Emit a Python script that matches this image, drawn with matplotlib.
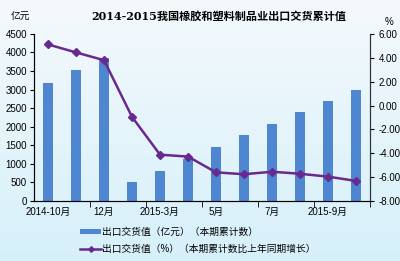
import numpy as np
import matplotlib.pyplot as plt
from matplotlib.colors import LinearSegmentedColormap

plt.rcParams['font.family'] = ['Liberation Sans', 'Noto Sans CJK SC', 'DejaVu Sans']

# Datos
meses = ['2014-10月', '11月', '12月', '2015-2月', '2015-3月', '4月', '5月', '6月',
         '7月', '8月', '2015-9月', '10月']
etiquetas_x = ['2014-10月', '', '12月', '', '2015-3月', '', '5月', '', '7月', '', '2015-9月', '']
valor_exportacion = [3190, 3535, 3860, 515, 805, 1140, 1455, 1770, 2065, 2385, 2705, 3000]
crecimiento = [5.12, 4.45, 3.80, -0.95, -4.12, -4.28, -5.60, -5.76, -5.55, -5.72, -5.96, -6.32]

fig = plt.figure(figsize=(4.0, 2.61), dpi=100)

# Fondo degradado
fondo = fig.add_axes([0, 0, 1, 1], zorder=-1)
cmap = LinearSegmentedColormap.from_list('fondo', ['#f4f9fc', '#d6f0fa'])
fondo.imshow(np.linspace(0, 1, 256).reshape(-1, 1), aspect='auto', cmap=cmap,
             extent=[0, 1, 0, 1], origin='upper')
fondo.axis('off')

ax = fig.add_axes([0.085, 0.230, 0.84, 0.640])
ax.patch.set_alpha(0)
x = np.arange(len(meses))
barras = ax.bar(x, valor_exportacion, width=0.38, color='#4f86d2', zorder=2,
                label='出口交货值（亿元）（本期累计数）')
ax.set_xlim(-0.5, len(meses) - 0.5)
ax.set_ylim(0, 4500)
ax.set_yticks(np.arange(0, 4501, 500))
ax.tick_params(axis='y', labelsize=7, length=3, direction='out', pad=2)
ax.set_xticks(x)
ax.set_xticklabels(etiquetas_x, fontsize=7)
ax.tick_params(axis='x', length=0, pad=4)
ax.set_xticks(np.arange(-0.5, len(meses), 2)[1:], minor=True)
ax.tick_params(axis='x', which='minor', length=4, direction='out')
ax.spines['top'].set_visible(False)
for lado in ['left', 'bottom', 'right']:
    ax.spines[lado].set_color('#333333')
    ax.spines[lado].set_linewidth(0.8)

ax2 = ax.twinx()
linea, = ax2.plot(x, crecimiento, color='#682a8e', lw=1.8, marker='D', ms=4,
                  zorder=3, label='出口交货值（%）（本期累计数比上年同期增长）')
ax2.set_ylim(-8, 6)
ax2.set_yticks(np.arange(-8, 6.01, 2))
ax2.set_yticklabels([f'{v:.2f}' for v in np.arange(-8, 6.01, 2)])
ax2.tick_params(axis='y', labelsize=7, length=3, direction='out', pad=3)
ax2.spines['top'].set_visible(False)
ax2.spines['right'].set_color('#333333')
ax2.spines['right'].set_linewidth(0.8)

fig.text(0.548, 0.938, '2014-2015我国橡胶和塑料制品业出口交货累计值', ha='center', va='center',
         fontsize=8, fontweight='bold', family=['DejaVu Serif', 'Noto Sans CJK SC'])
fig.text(0.052, 0.935, '亿元', ha='center', va='center', fontsize=7)
fig.text(0.972, 0.915, '%', ha='center', va='center', fontsize=7)

leyenda = fig.legend([barras, linea], [barras.get_label(), linea.get_label()],
                     loc='lower left', bbox_to_anchor=(0.19, 0.012), frameon=False,
                     fontsize=7, handlelength=2.2, handleheight=0.4, labelspacing=0.75,
                     handletextpad=0.1, borderaxespad=0, markerscale=0.7)

fig.savefig('out.png', dpi=100)
